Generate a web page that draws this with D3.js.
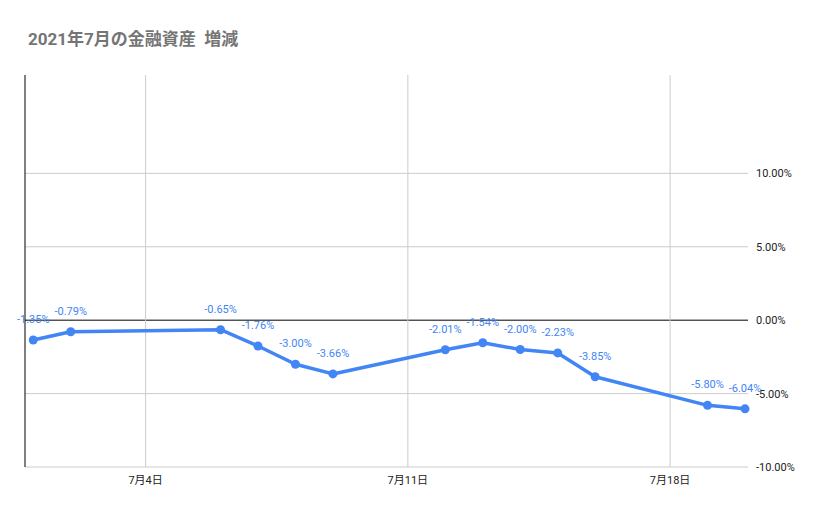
<!DOCTYPE html>
<html><head><meta charset="utf-8">
<script src="https://cdn.jsdelivr.net/npm/d3@7"></script>
<style>body{margin:0;background:#fff}text{font-family:Roboto,"Noto Sans CJK JP",sans-serif}</style>
</head><body><svg id="c" width="829" height="514"></svg>
<script>
const days = [1, 2, 6, 7, 8, 9, 12, 13, 14, 15, 16, 19, 20];
const values = [-1.35, -0.79, -0.65, -1.76, -3.00, -3.66, -2.01, -1.54, -2.00, -2.23, -3.85, -5.80, -6.04];
const yTicks = [-10, -5, 0, 5, 10];
const xTicks = [4, 11, 18];

const svg = d3.select("#c");
svg.append("text").attr("x", 28).attr("y", 45).attr("font-size", 17).attr("font-weight", "bold")
  .attr("fill", "#757575").attr("xml:space", "preserve").text("2021年7月の金融資産  増減");

const x = d3.scaleLinear().domain([0.78, 20.08]).range([25, 748]);
const y = d3.scaleLinear().domain([-10, 16.7]).range([467, 75]);

// gridlines
svg.append("g").selectAll("line").data(yTicks).join("line")
  .attr("x1", 25).attr("x2", 748).attr("y1", d => y(d)).attr("y2", d => y(d))
  .attr("stroke", d => d === 0 ? "#000" : "#ccc");
svg.append("g").selectAll("line").data(xTicks).join("line")
  .attr("x1", d => x(d)).attr("x2", d => x(d)).attr("y1", 75).attr("y2", 467).attr("stroke", "#ccc");
svg.append("line").attr("x1", 25).attr("x2", 25).attr("y1", 75).attr("y2", 467).attr("stroke", "#000");

svg.append("g").selectAll("text").data(yTicks).join("text")
  .attr("x", 756).attr("y", d => y(d) + 4).attr("font-size", 11).attr("fill", "#222")
  .text(d => d.toFixed(2) + "%");
svg.append("g").selectAll("text").data(xTicks).join("text")
  .attr("x", d => x(d)).attr("y", 484).attr("text-anchor", "middle").attr("font-size", 11).attr("fill", "#222")
  .text(d => "7月" + d + "日");

const pts = days.map((d, i) => [d, values[i]]);
svg.append("path").datum(pts).attr("fill", "none").attr("stroke", "#4285f4").attr("stroke-width", 3.5)
  .attr("stroke-linejoin", "round")
  .attr("d", d3.line().x(d => x(d[0])).y(d => y(d[1])));
svg.append("g").selectAll("circle").data(pts).join("circle")
  .attr("cx", d => x(d[0])).attr("cy", d => y(d[1])).attr("r", 4.5).attr("fill", "#4285f4");
svg.append("g").selectAll("text").data(pts).join("text")
  .attr("x", d => x(d[0])).attr("y", d => y(d[1]) - 17).attr("text-anchor", "middle")
  .attr("font-size", 11).attr("fill", "#4285f4")
  .text(d => d[1].toFixed(2) + "%");
</script></body></html>
